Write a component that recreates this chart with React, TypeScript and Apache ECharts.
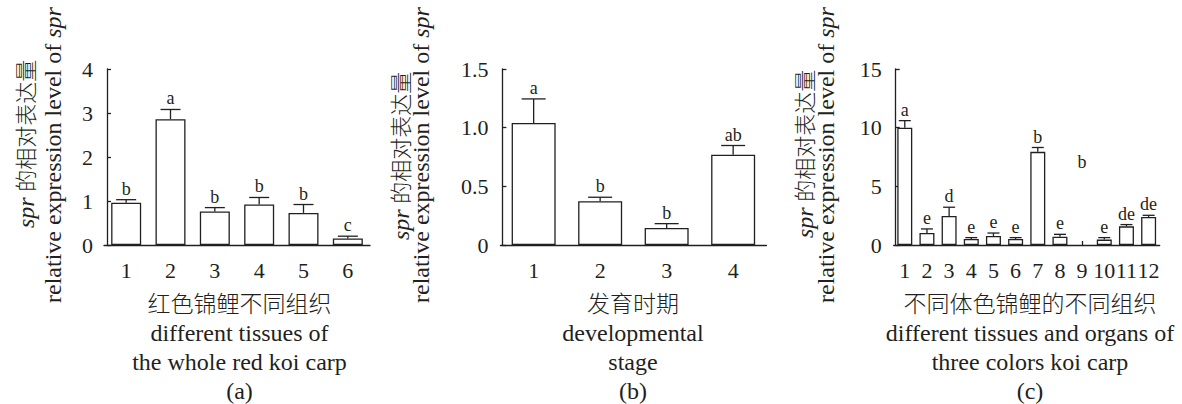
import React, { useEffect, useRef } from 'react';
import * as echarts from 'echarts';

// ---------- data ----------
const aCategories = ['1', '2', '3', '4', '5', '6'];
const aMeans = [0.96, 2.86, 0.76, 0.92, 0.73, 0.15];
const aErrors = [0.07, 0.22, 0.09, 0.16, 0.19, 0.05];
const aLetters = ['b', 'a', 'b', 'b', 'b', 'c'];

const bCategories = ['1', '2', '3', '4'];
const bMeans = [1.04, 0.373, 0.145, 0.769];
const bErrors = [0.205, 0.034, 0.037, 0.079];
const bLetters = ['a', 'b', 'b', 'ab'];

const cCategories = ['1', '2', '3', '4', '5', '6', '7', '8', '9', '10', '11', '12'];
const cMeans: (number | null)[] = [10.0, 1.02, 2.48, 0.51, 0.77, 0.51, 7.94, 0.71, null, 0.46, 1.59, 2.39];
const cErrors = [0.6, 0.35, 0.74, 0.12, 0.25, 0.12, 0.37, 0.2, 0, 0.17, 0.15, 0.14];
const cLetters = ['a', 'e', 'd', 'e', 'e', 'e', 'b', 'e', 'b', 'e', 'de', 'de'];
// the lone letter shown above category 9 (which has no bar), in axis units
const cLetterOnlyValue = 6.1;

const aTicks = { max: 4, interval: 1 };
const bTicks = { max: 1.5, interval: 0.5 };
const cTicks = { max: 15, interval: 5 };

const yTitleCn = '{i|spr}{c| 的相对表达量}';
const yTitleEn = '{n|relative expression level of }{i|spr}';
const aTitles = ['红色锦鲤不同组织', 'different tissues of', 'the whole red koi carp', '(a)'];
const bTitles = ['发育时期', 'developmental', 'stage', '(b)'];
const cTitles = ['不同体色锦鲤的不同组织', 'different tissues and organs of', 'three colors koi carp', '(c)'];

// ---------- style ----------
const INK = '#231f20';
const SERIF = 'Liberation Serif, Noto Sans CJK SC, serif';
const LW = 1.3;

function xAxisOf(gridIndex: number, data: string[]) {
  return {
    type: 'category',
    gridIndex,
    data,
    axisLine: { show: true, lineStyle: { color: INK, width: LW } },
    axisTick: { show: true, inside: true, length: 4, alignWithLabel: true, lineStyle: { color: INK, width: LW } },
    axisLabel: { interval: 0, color: INK, fontSize: 22, fontFamily: SERIF, margin: 14 },
    splitLine: { show: false },
  };
}

function yAxisOf(gridIndex: number, t: { max: number; interval: number }, offset: number, fmt?: (v: number) => string) {
  return {
    type: 'value',
    gridIndex,
    min: 0,
    max: t.max,
    interval: t.interval,
    offset,
    axisLine: { show: true, lineStyle: { color: INK, width: LW } },
    axisTick: { show: true, inside: true, length: 4, lineStyle: { color: INK, width: LW } },
    axisLabel: { color: INK, fontSize: 22, fontFamily: SERIF, margin: 14, formatter: fmt },
    splitLine: { show: false },
  };
}

function barSeries(idx: number, means: (number | null)[], width: number) {
  return {
    type: 'bar',
    xAxisIndex: idx,
    yAxisIndex: idx,
    data: means,
    barWidth: width,
    itemStyle: { color: '#ffffff', borderColor: INK, borderWidth: LW },
    silent: true,
  };
}

function errSeries(
  idx: number,
  means: (number | null)[],
  errors: number[],
  letters: string[],
  capW: number,
  letterOnly?: { index: number; value: number }
) {
  const data = means.map((m, i) => {
    if (m === null && letterOnly && letterOnly.index === i) return [i, letterOnly.value, 0, 1];
    return [i, m ?? 0, errors[i], 0];
  });
  return {
    type: 'custom',
    xAxisIndex: idx,
    yAxisIndex: idx,
    clip: false,
    silent: true,
    data,
    renderItem: (params: any, api: any) => {
      const i = params.dataIndex;
      const x = api.value(0);
      const m = api.value(1);
      const e = api.value(2);
      const only = api.value(3) === 1;
      const base = api.coord([x, m]);
      const top = api.coord([x, m + e]);
      const children: any[] = [];
      if (!only) {
        children.push({
          type: 'line',
          shape: { x1: base[0], y1: base[1], x2: base[0], y2: top[1] },
          style: { stroke: INK, lineWidth: LW },
        });
        children.push({
          type: 'line',
          shape: { x1: base[0] - capW / 2, y1: top[1], x2: base[0] + capW / 2, y2: top[1] },
          style: { stroke: INK, lineWidth: LW },
        });
      }
      children.push({
        type: 'text',
        x: base[0],
        y: top[1] - 2,
        style: {
          text: letters[i],
          fill: INK,
          fontSize: 18,
          fontFamily: SERIF,
          align: 'center',
          verticalAlign: 'bottom',
        },
      });
      return { type: 'group', children };
    },
  };
}

// rotated y-axis titles, anchored at their lower end
function yTitle(x1: number, y1: number, x2: number, y2: number) {
  const rich = {
    i: { fontStyle: 'italic', fontFamily: SERIF, fontSize: 24, fill: INK },
    n: { fontFamily: SERIF, fontSize: 24, fill: INK },
    c: { fontFamily: SERIF, fontSize: 22, fontWeight: 300, fill: INK },
  };
  const base = {
    fill: INK,
    fontSize: 24,
    fontFamily: SERIF,
    align: 'left',
    verticalAlign: 'middle',
    rich,
  };
  return [
    { type: 'text', x: x1, y: y1, rotation: Math.PI / 2, style: { ...base, text: yTitleCn } },
    { type: 'text', x: x2, y: y2, rotation: Math.PI / 2, style: { ...base, text: yTitleEn } },
  ];
}

function bottomTitles(cx: number, lines: string[]) {
  const ys = [304, 333, 362, 391];
  return lines.map((t, k) => ({
    type: 'text',
    x: cx,
    y: ys[k],
    style: {
      text: t,
      fill: INK,
      fontSize: k === 0 ? 23 : 24,
      fontWeight: k === 0 ? 300 : 'normal',
      fontFamily: SERIF,
      align: 'center',
      verticalAlign: 'middle',
    },
  }));
}

export default function App() {
  const ref = useRef<HTMLDivElement>(null);
  useEffect(() => {
    if (!ref.current) return;
    const chart = echarts.init(ref.current, undefined, { renderer: 'svg' });
    const option: any = {
      animation: false,
      backgroundColor: '#ffffff',
      grid: [
        { left: 104, top: 69, width: 266, height: 176 },
        { left: 500.4, top: 69, width: 266, height: 176 },
        { left: 893.7, top: 69, width: 266, height: 176 },
      ],
      xAxis: [xAxisOf(0, aCategories), xAxisOf(1, bCategories), xAxisOf(2, cCategories)],
      yAxis: [
        yAxisOf(0, aTicks, -3),
        yAxisOf(1, bTicks, -2, (v: number) => (v === 0 ? '0' : v.toFixed(1))),
        yAxisOf(2, cTicks, -2),
      ],
      series: [
        barSeries(0, aMeans, 30),
        errSeries(0, aMeans, aErrors, aLetters, 20),
        barSeries(1, bMeans, 44),
        errSeries(1, bMeans, bErrors, bLetters, 24),
        barSeries(2, cMeans, 15),
        errSeries(2, cMeans, cErrors, cLetters, 12, { index: 8, value: cLetterOnlyValue }),
      ],
      graphic: [
        ...yTitle(26, 228, 53, 303),
        ...yTitle(401, 240, 421, 303),
        ...yTitle(805, 238, 826, 303),
        ...bottomTitles(239.5, aTitles),
        ...bottomTitles(633, bTitles),
        ...bottomTitles(1030, cTitles),
      ],
    };
    chart.setOption(option);
    return () => chart.dispose();
  }, []);
  return (
    <div
      ref={ref}
      style={{ position: 'absolute', left: 0, top: 0, width: 1182, height: 404, background: '#fff' }}
    />
  );
}
